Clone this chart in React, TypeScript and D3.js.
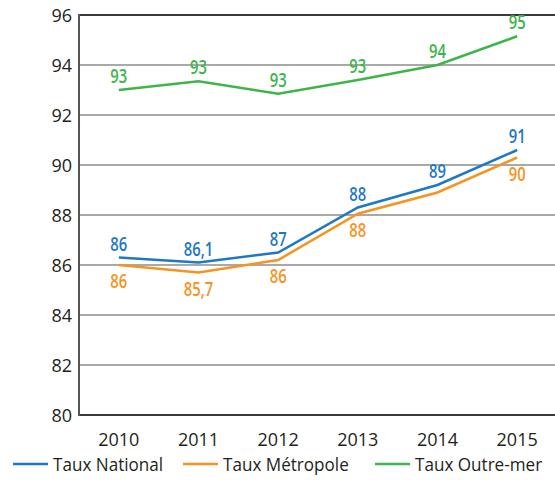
import React from "react";
import * as d3 from "d3";

const years = ["2010", "2011", "2012", "2013", "2014", "2015"];
const national = [86.3, 86.1, 86.5, 88.3, 89.2, 90.6];
const metropole = [86.0, 85.7, 86.2, 88.05, 88.9, 90.3];
const outremer = [93.0, 93.35, 92.85, 93.4, 94.0, 95.15];
const nationalLabels = ["86", "86,1", "87", "88", "89", "91"];
const metropoleLabels = ["86", "85,7", "86", "88", "", "90"];
const outremerLabels = ["93", "93", "93", "93", "94", "95"];
const yTicks = [80, 82, 84, 86, 88, 90, 92, 94, 96];
const legendNames = ["Taux National", "Taux Métropole", "Taux Outre-mer"];

const W = 555;
const H = 480;
const left = 79;
const right = 557;
const top = 15;
const bottom = 415;

const BLUE = "#1f78c4";
const ORANGE = "#f7931e";
const GREEN = "#3db54a";

export default function App() {
  const x = d3.scaleBand().domain(years).range([left, right]);
  const y = d3.scaleLinear().domain([80, 96]).range([bottom, top]);
  const cx = (i: number) => (x(years[i]) as number) + x.bandwidth() / 2;
  const line = d3
    .line<number>()
    .x((_, i) => cx(i))
    .y((d) => y(d));

  const series = [
    { vals: national, labels: nationalLabels, color: BLUE, dy: -7 },
    { vals: metropole, labels: metropoleLabels, color: ORANGE, dy: 23 },
    { vals: outremer, labels: outremerLabels, color: GREEN, dy: -7 },
  ];
  const legendX = [13, 183, 375];

  return (
    <svg
      width={W}
      height={H}
      style={{ position: "absolute", left: 0, top: 0, background: "#fff" }}
    >
      {yTicks.map((t) => (
        <line
          key={t}
          x1={left}
          x2={W}
          y1={y(t)}
          y2={y(t)}
          stroke={t === 96 || t === 80 ? "#3a3a3a" : "#8c8c8c"}
          strokeWidth={t === 96 || t === 80 ? 2 : 1.6}
        />
      ))}
      <line x1={left} x2={left} y1={top - 1} y2={bottom + 1} stroke="#555" strokeWidth={2} />
      {yTicks.map((t) => (
        <text
          key={"yl" + t}
          x={72}
          y={y(t) + 6.5}
          textAnchor="end"
          fontFamily="'Open Sans', sans-serif"
          fontSize={18}
          fill="#231f20"
        >
          {t}
        </text>
      ))}
      {years.map((yr, i) => (
        <text
          key={yr}
          x={cx(i)}
          y={446}
          textAnchor="middle"
          fontFamily="'Open Sans', sans-serif"
          fontSize={18}
          fill="#231f20"
        >
          {yr}
        </text>
      ))}
      {series.map((s, si) => (
        <g key={si}>
          <path d={line(s.vals) || ""} fill="none" stroke={s.color} strokeWidth={2.5} />
          {s.vals.map((v, i) =>
            s.labels[i] ? (
              <text
                key={i}
                transform={`translate(${cx(i)},${y(v) + s.dy}) scale(0.78,1)`}
                textAnchor="middle"
                fontFamily="'Open Sans', sans-serif"
                fontWeight={600}
                fontSize={19}
                fill={s.color}
              >
                {s.labels[i]}
              </text>
            ) : null
          )}
        </g>
      ))}
      {legendNames.map((n, i) => (
        <g key={n}>
          <line
            x1={legendX[i]}
            x2={legendX[i] + 35}
            y1={464}
            y2={464}
            stroke={series[i].color}
            strokeWidth={2.5}
          />
          <text
            transform={`translate(${legendX[i] + 40},471) scale(0.9,1)`}
            fontFamily="'Open Sans', sans-serif"
            fontSize={19}
            fill="#231f20"
          >
            {n}
          </text>
        </g>
      ))}
    </svg>
  );
}
